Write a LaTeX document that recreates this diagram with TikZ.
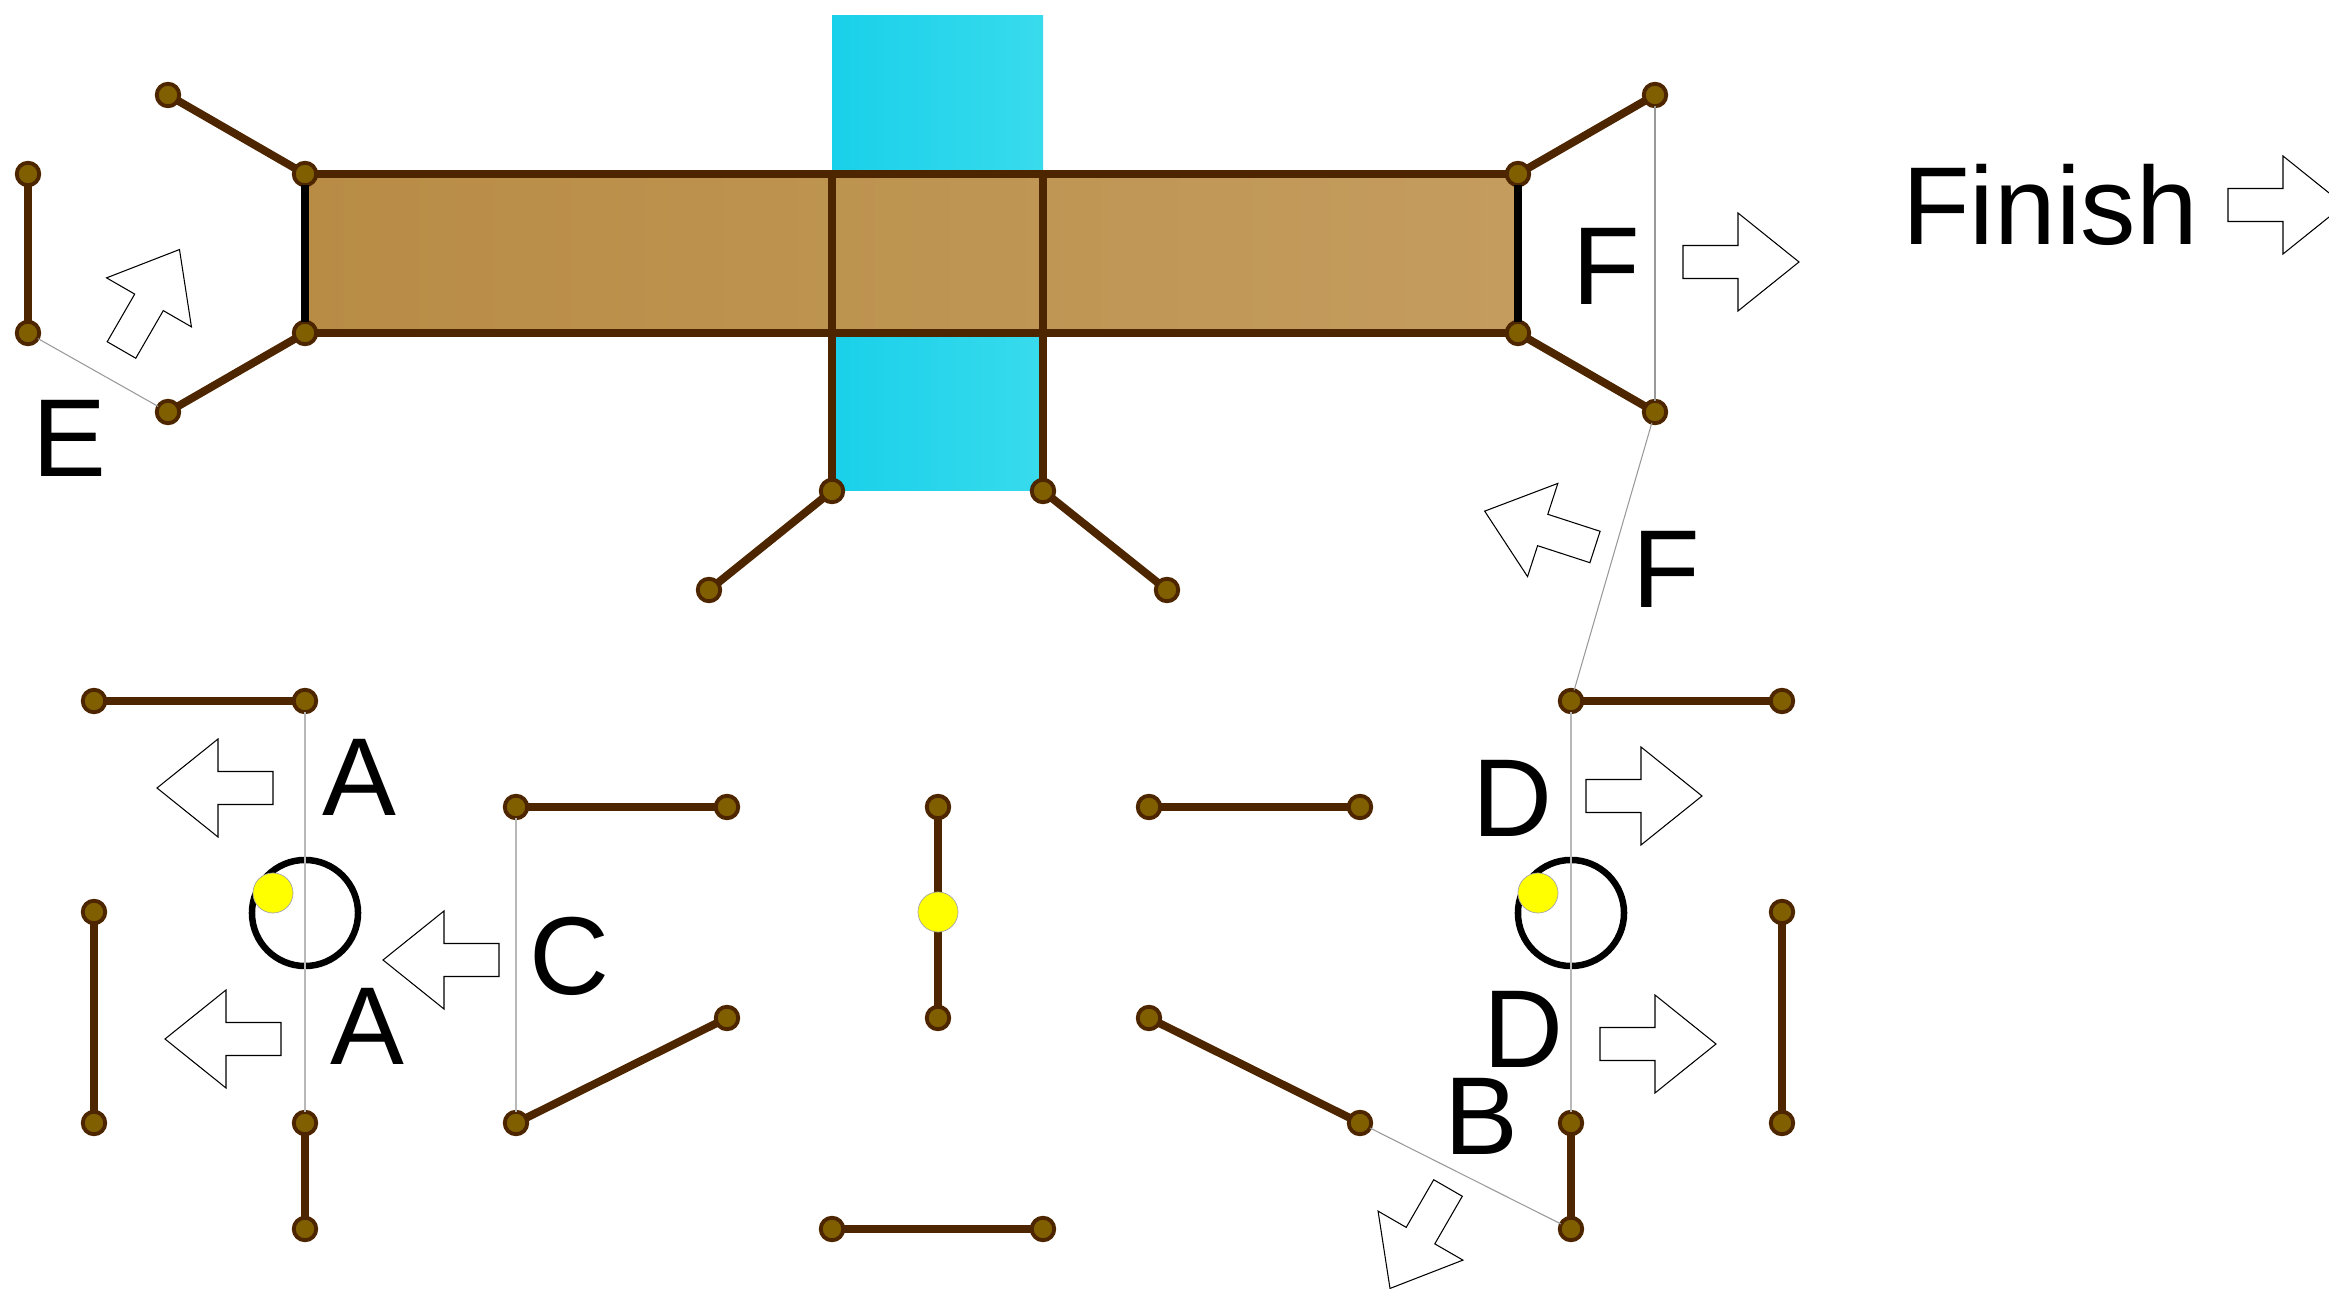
\documentclass[tikz,border=0pt]{standalone}
\usepackage{fontspec}
\setmainfont{Liberation Sans}
\usetikzlibrary{backgrounds}
\definecolor{barbrown}{HTML}{4D2600}
\definecolor{jointfill}{HTML}{7F5F00}
\definecolor{pivotyellow}{HTML}{FFFF00}
\definecolor{waterleft}{HTML}{19D0EA}
\definecolor{waterright}{HTML}{38DBEC}
\definecolor{plateleft}{HTML}{B88C45}
\definecolor{plateright}{HTML}{C49C5E}
\tikzset{
  joint/.style={circle,draw=barbrown,fill=jointfill,line width=1.1pt,inner sep=0pt,minimum size=.225cm,outer sep=0pt},
  bar/.style={draw=barbrown,line width=2.25pt},
  sidebar/.style={draw=black,line width=2.25pt},
  thinline/.style={draw=black!40,line width=.3pt},
  axisline/.style={draw=black!28,line width=.6pt},
  ring/.style={circle,draw=black,line width=1.85pt,inner sep=0pt,minimum size=1.06cm,outer sep=0pt},
  pivot/.style={circle,draw=black!35,fill=pivotyellow,line width=.2pt,inner sep=0pt,minimum size=.4cm,outer sep=0pt},
  letter/.style={anchor=base,inner sep=0pt,font=\fontsize{31.5}{38}\selectfont},
  arrowshape/.style={draw=black,fill=white,line width=.3pt,line join=miter}
}
\begin{document}
\begin{tikzpicture}[x=.01cm,y=-.01cm]
\useasboundingbox (0,0) rectangle (2329,1289);
\newcommand{\blockarrow}[3]{
  \draw[arrowshape,shift={(#1,#2)},rotate=#3] (0,-16.5) -- (55,-16.5) -- (55,-49) -- (116,0) -- (55,49) -- (55,16.5) -- (0,16.5) -- cycle;
}

% joints of the upper part
  \foreach \id/\x/\y in {ua/168/95,ub/305/174,uc/305/333,ud/168/412,ue/28/174,uf/28/333,
    ug/1655/95,uh/1518/174,ui/1518/333,uj/1655/412,uk/832/491,ul/1043/491,um/709/590,un/1167/590} {
    \node[joint] (\id) at (\x,\y) {};
  }
% joints of the lower part
  \foreach \id/\x/\y in {la/94/701,lb/305/701,lc/94/912,ld/94/1123,le/305/1123,lf/305/1229,
    lg/516/807,lh/727/807,li/516/1123,lj/727/1018,lk/938/807,ll/938/1018,
    lm/1149/807,ln/1360/807,lo/1149/1018,lp/1360/1123,lq/832/1229,lr/1043/1229,
    ls/1571/701,lt/1782/701,lu/1782/912,lv/1782/1123,lw/1571/1123,lx/1571/1229} {
    \node[joint] (\id) at (\x,\y) {};
  }
  \coordinate (bluetop) at (832,16);
  \coordinate (va) at (832,174);
  \coordinate (vb) at (1043,174);

% water and plate go behind everything
  \begin{scope}[on background layer]
    \shade[left color=waterleft,right color=waterright] (bluetop) rectangle (ul);
    \shade[left color=plateleft,right color=plateright] (ub) rectangle (ui);
  \end{scope}

% brown bars
  \foreach \a/\b in {ua/ub,uc/ud,ue/uf,ub/uh,uc/ui,ug/uh,ui/uj,uk/um,ul/un,
    la/lb,lc/ld,le/lf,lg/lh,li/lj,lk/ll,lm/ln,lo/lp,lq/lr,ls/lt,lu/lv,lw/lx} {
    \draw[bar] (\a) -- (\b);
  }
  \draw[bar] (va) -- (uk);
  \draw[bar] (vb) -- (ul);
  \draw[sidebar] (ub) -- (uc);
  \draw[sidebar] (uh) -- (ui);

% rings
  \node[ring] (ringa) at (305,913) {};
  \node[ring] (ringb) at (1571,913) {};

% grey construction lines
  \draw[thinline] (uf) -- (ud);
  \draw[thinline] (ug) -- (uj);
  \draw[thinline] (uj) -- (ls);
  \draw[thinline] (lp) -- (lx);
  \draw[axisline] (lb) -- (le);
  \draw[axisline] (ls) -- (lw);
  \draw[axisline] (lg) -- (li);

% yellow pivots
  \node[pivot] (pivota) at (273,893) {};
  \node[pivot] (pivotb) at (1538,893) {};
  \node[pivot] (pivotc) at (938,912) {};

% block arrows
  \blockarrow{121.5}{350}{60}
  \blockarrow{1683}{262}{0}
  \blockarrow{2228}{205}{0}
  \blockarrow{1595}{547}{162}
  \blockarrow{273}{788}{180}
  \blockarrow{281}{1039}{180}
  \blockarrow{499}{960}{180}
  \blockarrow{1586}{796}{0}
  \blockarrow{1600}{1044}{0}
  \blockarrow{1448}{1188}{240}

% letters
  \foreach \id/\x/\y/\txt in {te/69/477/E,tf/1606/305/F,tg/1666/608/F,ta/359/816/A,tb/367/1065/A,
    tc/569/995/C,td/1512/837/D,th/1523/1068/D,ti/1481/1155/B,tj/2050/245/Finish} {
    \node[letter] (\id) at (\x,\y) {\txt};
  }
\end{tikzpicture}
\end{document}
